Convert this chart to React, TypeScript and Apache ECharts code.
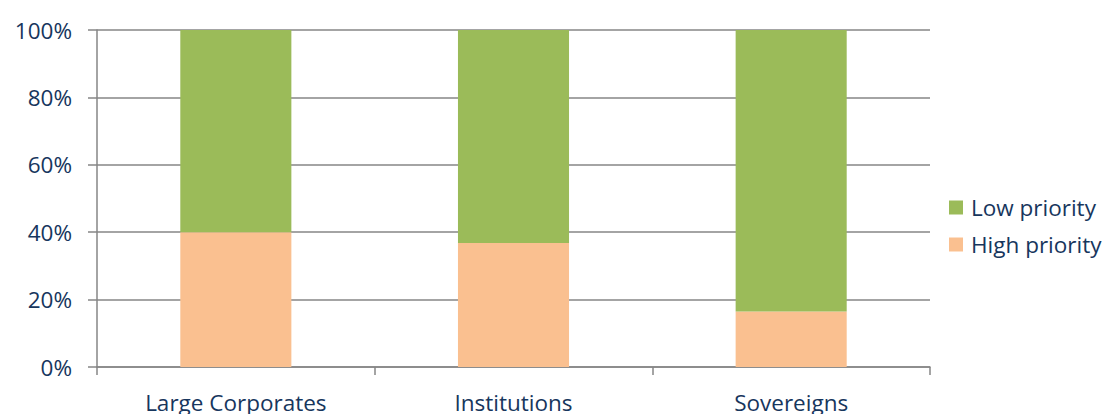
import React, { useEffect, useRef } from "react";
import * as echarts from "echarts";

const categories = ["Large Corporates", "Institutions", "Sovereigns"];
const highPriority = [40, 36.8, 16.5];
const lowPriority = [60, 63.2, 83.5];
const yTicks = [0, 20, 40, 60, 80, 100];

const textColor = "#17365D";
const font = "'Open Sans', 'Noto Sans', sans-serif";
const fs = 22.5;

export default function App() {
  const ref = useRef<HTMLDivElement>(null);
  useEffect(() => {
    if (!ref.current) return;
    const chart = echarts.init(ref.current, undefined, { renderer: "svg" });
    chart.setOption({
      animation: false,
      grid: { left: 97, right: 176, top: 30, bottom: 46, containLabel: false },
      legend: {
        orient: "vertical",
        left: 949,
        top: 196,
        padding: 0,
        itemWidth: 14,
        itemHeight: 14,
        itemGap: 14,
        icon: "rect",
        data: ["Low priority", "High priority"],
        textStyle: { color: textColor, fontSize: fs, fontFamily: font, padding: [0, 0, 0, 3] },
      },
      xAxis: {
        type: "category",
        data: categories,
        boundaryGap: true,
        axisLine: { show: true, lineStyle: { color: "#868686", width: 1.5 } },
        axisTick: { show: true, length: 8, interval: 0, lineStyle: { color: "#868686", width: 1.5 } },
        axisLabel: { color: textColor, fontSize: fs, fontFamily: font, margin: 24 },
      },
      yAxis: {
        type: "value",
        min: 0,
        max: 100,
        interval: 20,
        axisLine: { show: true, lineStyle: { color: "#868686", width: 1.5 } },
        axisTick: { show: true, length: 9, lineStyle: { color: "#868686", width: 1.5 } },
        splitLine: { show: true, lineStyle: { color: "#868686", width: 1.5 } },
        axisLabel: {
          color: textColor,
          fontSize: fs,
          fontFamily: font,
          margin: 25,
          formatter: (v: number) => (yTicks.includes(v) ? v + "%" : ""),
        },
      },
      series: [
        {
          name: "High priority",
          type: "bar",
          stack: "total",
          data: highPriority,
          barWidth: "40%",
          itemStyle: { color: "#FAC090" },
        },
        {
          name: "Low priority",
          type: "bar",
          stack: "total",
          data: lowPriority,
          barWidth: "40%",
          itemStyle: { color: "#9BBB59" },
        },
      ],
    });
    return () => chart.dispose();
  }, []);
  return <div ref={ref} style={{ width: 1106, height: 414, position: "absolute", left: 0, top: 0 }} />;
}
